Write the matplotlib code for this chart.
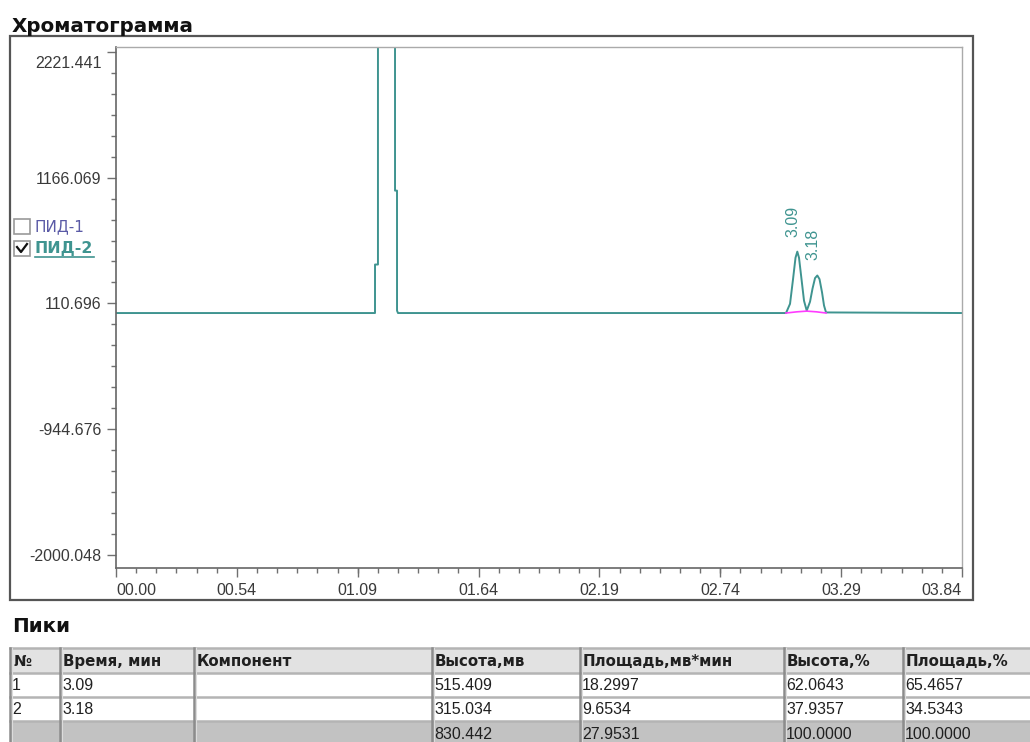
import matplotlib
matplotlib.use("Agg")
import matplotlib.pyplot as plt
import matplotlib.transforms as mtransforms
from matplotlib.patches import Rectangle
from matplotlib.ticker import FixedLocator, MultipleLocator

plt.rcParams['font.family'] = ['Liberation Sans', 'DejaVu Sans']

W, H = 1030, 742

# chromatogram trace (time, min / signal, mV)
trace_time = [0.0, 1.1756, 1.1757, 1.189, 1.1891, 1.2664, 1.2665, 1.2755, 1.2756, 1.28,
              3.0412, 3.0594, 3.0730, 3.0843, 3.0925, 3.1002, 3.1116, 3.1229,
              3.1352, 3.1502, 3.1615, 3.1729, 3.1833, 3.1933, 3.2047, 3.2137, 3.2228, 3.84]
trace_signal = [30, 30, 437, 437, 3500, 3500, 1057, 1057, 50, 30,
                30, 107, 313, 494, 545, 494, 313, 133,
                50, 125, 235, 323, 345, 314, 203, 93, 35, 30]

# integration baseline under the peaks
base_time = [3.0412, 3.09, 3.1352, 3.18, 3.2228]
base_signal = [30, 40, 46, 40, 30]

peak_times = [3.0925, 3.1833]
peak_tops = [545, 345]
peak_labels = ["3.09", "3.18"]

y_ticks = [-2000.048, -944.676, 110.696, 1166.069, 2221.441]
y_ticklabels = ["-2000.048", "-944.676", "110.696", "1166.069", "2221.441"]
x_ticks = [0.0, 0.5486, 1.0971, 1.6457, 2.1943, 2.7429, 3.2914, 3.84]
x_ticklabels = ["00.00", "00.54", "01.09", "01.64", "02.19", "02.74", "03.29", "03.84"]

# peaks table
col_headers = ["№", "Время, мин", "Компонент", "Высота,мв", "Площадь,мв*мин", "Высота,%", "Площадь,%"]
row_1 = ["1", "3.09", "", "515.409", "18.2997", "62.0643", "65.4657"]
row_2 = ["2", "3.18", "", "315.034", "9.6534", "37.9357", "34.5343"]
row_total = ["", "", "", "830.442", "27.9531", "100.0000", "100.0000"]

teal = '#3f9490'
tick_col = '#707070'
lab_col = '#3a3a3a'

fig = plt.figure(figsize=(W / 100, H / 100), dpi=100)

# overlay in pixel coords for the frame, legend and table
bg = fig.add_axes([0, 0, 1, 1], zorder=0)
bg.set_xlim(0, W)
bg.set_ylim(H, 0)
bg.axis('off')

bold_font = ['DejaVu Sans']
bg.text(12, 32, "Хроматограмма", fontsize=14.3, fontweight='bold', family=bold_font,
        color='#111111', va='baseline')
bg.add_patch(Rectangle((10, 36), 963, 564, fill=False, ec='#555555', lw=1.6))

# channel check boxes
bg.add_patch(Rectangle((14, 219), 16, 15, fc='white', ec='#9a9a9a', lw=1.2))
bg.add_patch(Rectangle((14, 241), 16, 15, fc='white', ec='#9a9a9a', lw=1.2))
bg.plot([17, 21, 27], [247, 252, 244], color='#111111', lw=1.6)
bg.text(34, 227, "ПИД-1", fontsize=11, family=bold_font, color='#5a5aa6', va='center')
bg.text(35, 248, "ПИД-2", fontsize=11.3, color=teal, va='center', fontweight='bold',
        family=bold_font)
bg.plot([35, 94], [257, 257], color=teal, lw=1.2)

bg.text(12, 632, "Пики", fontsize=14.3, fontweight='bold', family=bold_font,
        color='#111111', va='baseline')

col_x = [10, 60, 194, 432, 580, 784, 903, 1040]
row_y = [648, 673, 697, 721, 746]
rows = [col_headers, row_1, row_2, row_total]
fills = ['#e2e2e2', 'white', 'white', '#c2c2c2']
for r, vals in enumerate(rows):
    y0, y1 = row_y[r], row_y[r + 1]
    bg.add_patch(Rectangle((col_x[0], y0), col_x[-1] - col_x[0], y1 - y0, fc=fills[r], ec='none'))
    for c, v in enumerate(vals):
        if r == 0:
            bg.text(col_x[c] + 3, (y0 + y1) / 2 + 1, v, fontsize=10.8, fontweight='bold',
                    family=bold_font, color='#202020', va='center')
        else:
            bg.text(col_x[c] + 2, (y0 + y1) / 2 + 1, v, fontsize=11.5,
                    color='#202020', va='center')
for y in row_y:
    bg.plot([col_x[0], col_x[-1]], [y, y], color='#b4b4b4', lw=1.8)
for x in col_x:
    bg.plot([x, x], [row_y[0], row_y[-1]], color='#8c8c8c', lw=1.8)
    bg.plot([x + 1.5, x + 1.5], [row_y[0], row_y[-1]], color='#dcdcdc', lw=0.8)

# chromatogram axes
ax = fig.add_axes([116 / W, 1 - 568 / H, 846 / W, (568 - 46.5) / H], zorder=1)
ax.set_facecolor('white')
ax.plot(trace_time, trace_signal, color=teal, lw=1.4)
ax.plot(base_time, base_signal, color='#ff3cff', lw=1.2)
for t, top, lab in zip(peak_times, peak_tops, peak_labels):
    ax.annotate(lab, xy=(t, top), xytext=(-4, 15), textcoords='offset pixels',
                rotation=90, ha='center', va='bottom', fontsize=11.5, color=teal)

ax.set_xlim(0, 3.84)
ax.set_ylim(-2109, 2266)
ax.xaxis.set_major_locator(FixedLocator(x_ticks))
ax.set_xticklabels(x_ticklabels)
ax.xaxis.set_minor_locator(MultipleLocator(3.84 / 42))
ax.yaxis.set_major_locator(FixedLocator(y_ticks))
ax.set_yticklabels(y_ticklabels)
ax.yaxis.set_minor_locator(FixedLocator([y_ticks[0] + i * 1055.3723 / 6 for i in range(25)]))
ax.tick_params(which='major', length=6.5, width=1, color=tick_col, labelsize=11.5,
               labelcolor=lab_col, pad=4)
ax.tick_params(which='minor', length=3.6, width=1, color=tick_col)
for side in ['left', 'bottom']:
    ax.spines[side].set_color('#666666')
    ax.spines[side].set_linewidth(1.2)
for side in ['top', 'right']:
    ax.spines[side].set_color('#aaaaaa')
    ax.spines[side].set_linewidth(1.0)

xlabels = ax.get_xticklabels()
xlabels[0].set_ha('left')
xlabels[-1].set_ha('right')
top_lab = ax.get_yticklabels()[-1]
top_lab.set_transform(top_lab.get_transform() +
                      mtransforms.ScaledTranslation(0, -10 / 100, fig.dpi_scale_trans))

fig.savefig("out.png", dpi=100)
